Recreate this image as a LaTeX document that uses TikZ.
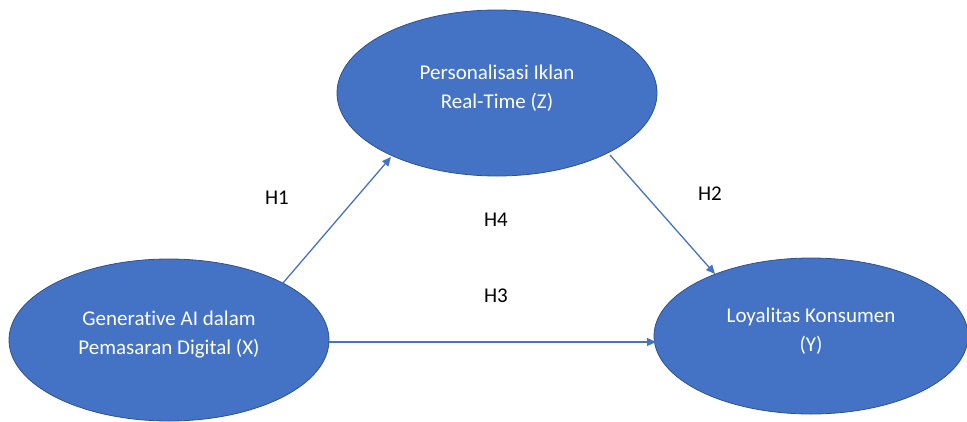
\documentclass[tikz,border=0pt]{standalone}
\usepackage{fontspec}
\setmainfont{Carlito}[Ligatures=NoCommon]
\usetikzlibrary{shapes.geometric,arrows.meta}
\definecolor{fillblue}{HTML}{4472C4}
\definecolor{edgeblue}{HTML}{2F528F}
\begin{document}
\begin{tikzpicture}[x=1pt,y=-1pt,
  var/.style={ellipse,fill=fillblue,draw=edgeblue,line width=0.8pt,inner sep=0pt},
  vtext/.style={text=white,font=\fontsize{21}{29}\selectfont,align=center},
  conn/.style={draw=fillblue,line width=1.3pt,-{Triangle[length=9pt,width=8pt]}},
  hlab/.style={font=\fontsize{21}{24}\selectfont,text=black}]
\useasboundingbox (0,0) rectangle (967,421);
\node[var,minimum width=320pt,minimum height=166pt,
  label={[vtext,yshift=5pt]center:Personalisasi Iklan\\Real-Time (Z)}] (Z) at (497,93) {};
\node[var,minimum width=320pt,minimum height=162pt,
  label={[vtext,yshift=5pt]center:Generative AI dalam\\Pemasaran Digital (X)}] (X) at (169,340) {};
\node[var,minimum width=314pt,minimum height=156pt,
  label={[vtext,yshift=5pt]center:Loyalitas Konsumen\\(Y)}] (Y) at (811,336) {};
\coordinate (h1s) at (283,283);
\coordinate (h1e) at (391,157);
\coordinate (h2s) at (610,155);
\coordinate (h2e) at (715,274);
\coordinate (h3s) at (329,342);
\coordinate (h3e) at (656,342);
\draw[conn] (h1s) -- (h1e);
\draw[conn] (h2s) -- (h2e);
\draw[conn] (h3s) -- (h3e);
\node[hlab] (H1) at (277,198) {H1};
\node[hlab] (H2) at (710,194) {H2};
\node[hlab] (H4) at (496,220) {H4};
\node[hlab] (H3) at (496,296) {H3};
\end{tikzpicture}
\end{document}
